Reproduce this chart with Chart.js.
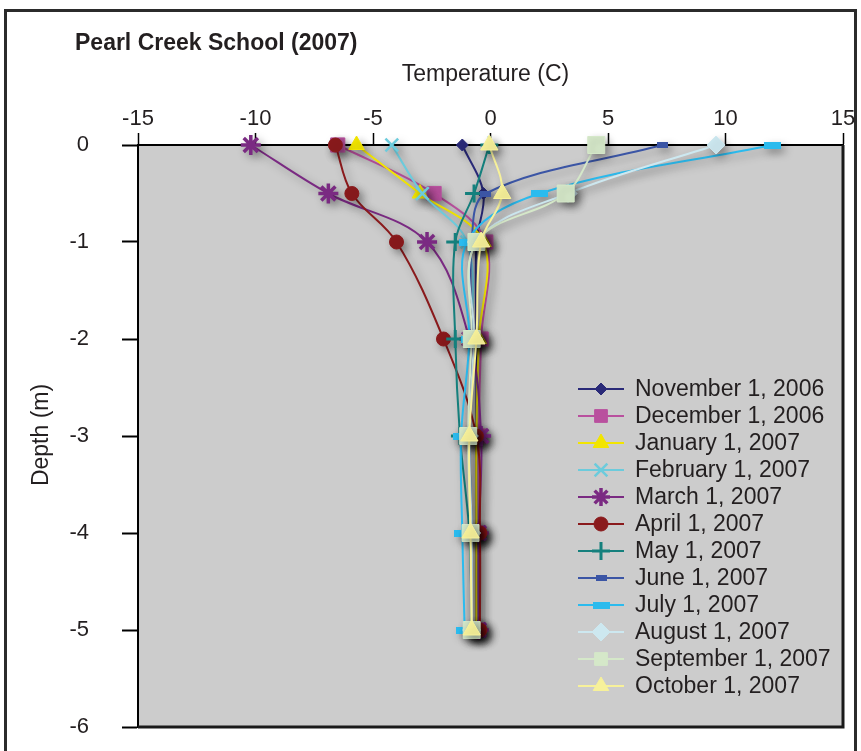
<!DOCTYPE html>
<html lang="en">

<head>
    <meta charset="UTF-8">
    <title>Pearl Creek School (2007)</title>
    <script src="https://cdn.jsdelivr.net/npm/chart.js@4.4.0/dist/chart.umd.min.js"></script>
    <style>
        body { margin: 0; background: #fff; }
        canvas { display: block; }
    </style>
</head>

<body>
    <canvas id="tempChart" width="861" height="751"></canvas>

    <script>
        // depth (m) of each reading
        const depths = [0, -0.5, -1, -2, -3, -4, -5];

        const seriesNames = ['November 1, 2006', 'December 1, 2006', 'January 1, 2007', 'February 1, 2007',
            'March 1, 2007', 'April 1, 2007', 'May 1, 2007', 'June 1, 2007', 'July 1, 2007',
            'August 1, 2007', 'September 1, 2007', 'October 1, 2007'];

        // temperature (C) at each depth
        const nov = [-1.2, -0.3, -0.6, -0.6, -0.6, -0.6, -0.6];
        const dec = [-6.5, -2.4, -0.2, -0.4, -0.5, -0.5, -0.5];
        const jan = [-5.7, -3.0, -0.3, -0.5, -0.6, -0.6, -0.6];
        const feb = [-4.2, -2.9, -1.0, -0.8, -0.9, -0.8, -0.8];
        const mar = [-10.2, -6.9, -2.7, -0.9, -0.4, -0.5, -0.5];
        const apr = [-6.6, -5.9, -4.0, -2.0, -0.6, -0.45, -0.45];
        const may = [-0.05, -0.7, -1.5, -1.5, -1.3, -0.9, -0.8];
        const jun = [7.3, -0.2, -0.8, -0.8, -0.9, -0.8, -0.8];
        const jul = [12.0, 2.1, -1.0, -0.9, -1.25, -1.2, -1.1];
        const aug = [9.6, 3.3, -0.6, -0.7, -0.9, -0.8, -0.8];
        const sep = [4.5, 3.2, -0.6, -0.8, -0.95, -0.85, -0.8];
        const oct = [-0.05, 0.5, -0.4, -0.6, -0.9, -0.85, -0.8];

        const xTicks = [-15, -10, -5, 0, 5, 10, 15];
        const yTicks = [0, -1, -2, -3, -4, -5, -6];

        // small flat bars used as markers for June / July
        function dash(w, h, color) {
            const c = document.createElement('canvas');
            c.width = w; c.height = h;
            const g = c.getContext('2d');
            g.fillStyle = color;
            g.fillRect(0, 0, w, h);
            return c;
        }

        const styles = [
            { color: '#2a2a78', point: 'rectRot', r: 6, bw: 1 },
            { color: '#b9509e', point: 'rect', r: 10, bw: 1 },
            { color: '#f2e500', point: 'triangle', r: 9, bw: 1 },
            { color: '#6ccbdc', point: 'crossRot', r: 9, bw: 2.5 },
            { color: '#7a2a82', point: 'star', r: 10, bw: 3.5 },
            { color: '#8a1a1c', point: 'circle', r: 7, bw: 1 },
            { color: '#15807d', point: 'cross', r: 9, bw: 3 },
            { color: '#3b55a5', point: dash(11, 6, '#3b55a5'), r: 6, bw: 1 },
            { color: '#2bbbee', point: dash(17, 7, '#2bbbee'), r: 8, bw: 1 },
            { color: '#cde8f0', point: 'rectRot', r: 9, bw: 1 },
            { color: '#d5e8c9', point: 'rect', r: 12, bw: 1 },
            { color: '#f7f19a', point: 'triangle', r: 10, bw: 1 }
        ];

        const allSeries = [nov, dec, jan, feb, mar, apr, may, jun, jul, aug, sep, oct];

        const datasets = allSeries.map((vals, i) => ({
            label: seriesNames[i],
            data: vals.map((v, k) => ({ x: v, y: depths[k] })),
            borderColor: styles[i].color,
            backgroundColor: styles[i].color,
            pointStyle: styles[i].point,
            pointRadius: styles[i].r,
            pointBorderWidth: styles[i].bw,
            borderWidth: 2,
            tension: 0.35,
            clip: false,
            order: 11 - i
        }));

        const FONT = 'Liberation Sans, Arial, sans-serif';
        Chart.defaults.font.family = FONT;

        const decor = {
            id: 'decor',
            beforeDraw(chart) {
                const ctx = chart.ctx;
                const a = chart.chartArea;
                ctx.save();
                ctx.strokeStyle = '#2b2b2b';
                ctx.lineWidth = 3;
                ctx.strokeRect(5.5, 10.5, 850, 780);
                ctx.fillStyle = '#cccccc';
                ctx.fillRect(a.left, a.top, a.right - a.left, a.bottom - a.top);
                ctx.restore();
            },
            beforeDatasetsDraw(chart) {
                const ctx = chart.ctx;
                ctx.save();
                ctx.shadowColor = 'rgba(0,0,0,0.35)';
                ctx.shadowBlur = 8;
                ctx.shadowOffsetX = 4;
                ctx.shadowOffsetY = 4;
            },
            afterDatasetsDraw(chart) {
                chart.ctx.restore();
            },
            afterDraw(chart) {
                const ctx = chart.ctx;
                const a = chart.chartArea;
                ctx.save();
                // right and bottom edge of plot
                ctx.strokeStyle = '#1a1a1a';
                ctx.lineWidth = 3;
                ctx.beginPath();
                ctx.moveTo(a.right, a.top);
                ctx.lineTo(a.right, a.bottom);
                ctx.lineTo(a.left, a.bottom);
                ctx.stroke();

                ctx.fillStyle = '#231f20';
                ctx.font = 'bold 23px ' + FONT;
                ctx.textBaseline = 'alphabetic';
                ctx.textAlign = 'left';
                ctx.fillText('Pearl Creek School (2007)', 75, 50);

                ctx.font = '23px ' + FONT;
                ctx.textAlign = 'center';
                ctx.fillText('Temperature (C)', (a.left + a.right) / 2 - 5, 81);

                ctx.save();
                ctx.translate(48, 435);
                ctx.rotate(-Math.PI / 2);
                ctx.fillText('Depth (m)', 0, 0);
                ctx.restore();

                // legend inside the plot
                chart.data.datasets.forEach((ds, i) => {
                    const y = 389 + i * 27;
                    ctx.strokeStyle = ds.borderColor;
                    ctx.lineWidth = 2;
                    ctx.beginPath();
                    ctx.moveTo(578, y);
                    ctx.lineTo(624, y);
                    ctx.stroke();
                    ctx.fillStyle = ds.backgroundColor;
                    ctx.lineWidth = ds.pointBorderWidth;
                    Chart.helpers.drawPoint(ctx, {
                        pointStyle: ds.pointStyle,
                        radius: Math.min(ds.pointRadius, 9),
                        rotation: 0,
                        borderWidth: ds.pointBorderWidth
                    }, 601, y);
                    ctx.fillStyle = '#231f20';
                    ctx.font = '23px ' + FONT;
                    ctx.textAlign = 'left';
                    ctx.textBaseline = 'middle';
                    ctx.fillText(ds.label, 635, y + 1);
                });
                ctx.restore();
            }
        };

        new Chart(document.getElementById('tempChart'), {
            type: 'line',
            data: { datasets: datasets },
            options: {
                responsive: false,
                animation: false,
                layout: { padding: { left: 0, top: 0, right: 18, bottom: 24 } },
                plugins: { legend: { display: false }, tooltip: { enabled: false } },
                scales: {
                    x: {
                        type: 'linear',
                        position: 'top',
                        min: -15,
                        max: 15,
                        afterFit(s) { s.height = 145; s.paddingLeft = 0; s.paddingRight = 0; },
                        afterBuildTicks(s) { s.ticks = xTicks.map(v => ({ value: v })); },
                        grid: { drawOnChartArea: false, tickLength: 12, tickColor: '#000', tickWidth: 1.5 },
                        border: { color: '#000', width: 2 },
                        ticks: { color: '#231f20', font: { size: 22 }, padding: 1, maxRotation: 0 }
                    },
                    y: {
                        type: 'linear',
                        min: -6,
                        max: 0,
                        afterFit(s) { s.width = 138; s.paddingTop = 0; s.paddingBottom = 0; },
                        afterBuildTicks(s) { s.ticks = yTicks.map(v => ({ value: v })); },
                        grid: { drawOnChartArea: false, tickLength: 16, tickColor: '#000', tickWidth: 2 },
                        border: { color: '#000', width: 2 },
                        ticks: { color: '#231f20', font: { size: 22 }, padding: 33 }
                    }
                }
            },
            plugins: [decor]
        });
    </script>

</body>

</html>
